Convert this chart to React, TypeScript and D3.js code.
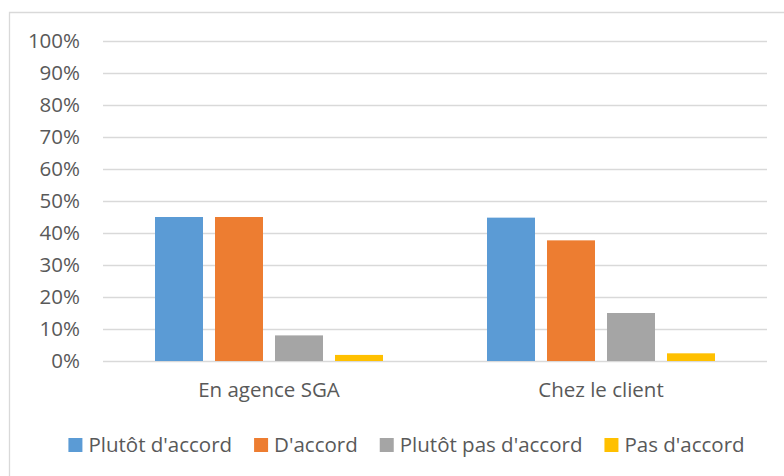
import React, { useEffect, useRef } from "react";
import * as d3 from "d3";

const categories = ["En agence SGA", "Chez le client"];
const seriesNames = ["Plutôt d'accord", "D'accord", "Plutôt pas d'accord", "Pas d'accord"];
const seriesColors = ["#5B9BD5", "#ED7D31", "#A5A5A5", "#FFC000"];
// values in %, one array per category, in series order
const agenceValues = [45, 45, 8, 1.9];
const clientValues = [44.8, 37.7, 15, 2.4];
const yTicks = [0, 10, 20, 30, 40, 50, 60, 70, 80, 90, 100];

const W = 784;
const H = 476;
const FONT = "'Open Sans', sans-serif";
const FS = 20.5;
const TEXT = "#595959";

const App = () => {
  const svgRef = useRef<SVGSVGElement>(null);

  useEffect(() => {
    const svg = d3.select(svgRef.current);
    svg.selectAll("*").remove();

    const margin = { top: 41, right: 17, bottom: 115, left: 103 };
    const width = W - margin.left - margin.right;

    // chart frame (only top and left edges visible)
    svg.append("path")
      .attr("d", `M9.5,${H} V12.5 H${W}`)
      .attr("fill", "none")
      .attr("stroke", "#d9d9d9")
      .attr("stroke-width", 1.3);

    const y = d3.scaleLinear().domain([0, 100]).range([361, 41]);
    const x0 = d3.scaleBand().domain(categories).range([margin.left, margin.left + width]);
    const x1 = d3.scaleBand().domain(seriesNames).range([0, 240]).paddingInner(0.2).paddingOuter(0.1);

    const g = svg.append("g");

    // gridlines
    g.selectAll("line.grid")
      .data(yTicks)
      .enter()
      .append("line")
      .attr("x1", margin.left)
      .attr("x2", margin.left + width)
      .attr("y1", (d) => Math.round(y(d)) + 0.5)
      .attr("y2", (d) => Math.round(y(d)) + 0.5)
      .attr("stroke", "#d9d9d9")
      .attr("stroke-width", 1.3);

    // y labels
    g.selectAll("text.ytick")
      .data(yTicks)
      .enter()
      .append("text")
      .attr("x", 80)
      .attr("y", (d) => y(d) + 7)
      .attr("text-anchor", "end")
      .attr("font-family", FONT)
      .attr("font-size", FS)
      .attr("fill", TEXT)
      .text((d) => d + "%");

    const rows = [agenceValues, clientValues];
    categories.forEach((cat, ci) => {
      const cx = (x0(cat) as number) + x0.bandwidth() / 2;
      const left = cx - 120;
      g.selectAll(`rect.bar${ci}`)
        .data(rows[ci])
        .enter()
        .append("rect")
        .attr("x", (d, i) => left + (x1(seriesNames[i]) as number))
        .attr("y", (d) => y(d))
        .attr("width", x1.bandwidth())
        .attr("height", (d) => y(0) - y(d))
        .attr("fill", (d, i) => seriesColors[i]);

      g.append("text")
        .attr("x", cx)
        .attr("y", 397)
        .attr("text-anchor", "middle")
        .attr("font-family", FONT)
        .attr("font-size", FS)
        .attr("fill", TEXT)
        .text(cat);
    });

    // legend
    const legend = svg.append("g");
    const items = seriesNames.map((name, i) => {
      const item = legend.append("g");
      item.append("rect")
        .attr("width", 14)
        .attr("height", 14)
        .attr("y", 438)
        .attr("fill", seriesColors[i]);
      const t = item.append("text")
        .attr("x", 20)
        .attr("y", 452)
        .attr("font-family", FONT)
        .attr("font-size", FS)
        .attr("fill", TEXT)
        .text(name);
      const len = (t.node() as SVGTextElement).getComputedTextLength();
      return { item, w: 20 + len };
    });
    const gap = 22;
    const total = d3.sum(items, (d) => d.w) + gap * (items.length - 1);
    let pos = 406.5 - total / 2;
    items.forEach((d) => {
      d.item.attr("transform", `translate(${pos},0)`);
      pos += d.w + gap;
    });
  }, []);

  return (
    <svg
      ref={svgRef}
      width={W}
      height={H}
      style={{ position: "absolute", left: 0, top: 0, background: "#fff" }}
    />
  );
};

export default App;
